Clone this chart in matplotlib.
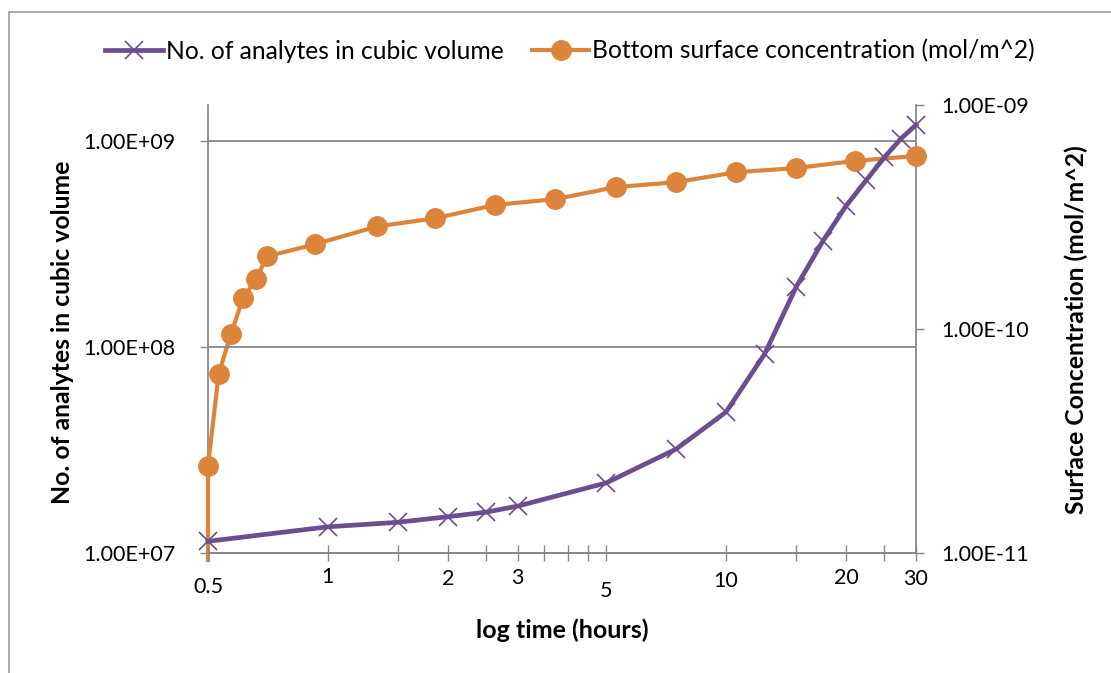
import matplotlib
matplotlib.use('Agg')
import matplotlib.pyplot as plt
from matplotlib.patches import Rectangle
from matplotlib.ticker import FixedLocator, NullLocator
from matplotlib.transforms import Bbox, TransformedBbox

plt.rcParams['font.family'] = ['Lato', 'DejaVu Sans']

# analytes in cubic volume (left axis)
t_analytes = [0.5, 1, 1.5, 2, 2.5, 3, 5, 7.5, 10, 12.5, 15, 17.5, 20, 22.5, 25, 27.5, 30]
n_analytes = [1.14e7, 1.34e7, 1.41e7, 1.50e7, 1.58e7, 1.69e7, 2.19e7, 3.2e7, 4.84e7,
              9.25e7, 1.96e8, 3.27e8, 4.84e8, 6.47e8, 8.36e8, 1.03e9, 1.20e9]

# bottom surface concentration (right axis)
t_surface = [0.5, 0.5, 0.532, 0.571, 0.612, 0.66, 0.704, 0.929, 1.33, 1.86, 2.63,
             3.73, 5.28, 7.47, 10.6, 15.0, 21.1, 30]
c_surface = [1e-12, 2.45e-11, 6.31e-11, 9.5e-11, 1.37e-10, 1.67e-10, 2.11e-10, 2.39e-10,
             2.87e-10, 3.12e-10, 3.58e-10, 3.80e-10, 4.30e-10, 4.52e-10, 5.01e-10,
             5.23e-10, 5.63e-10, 5.92e-10]

x_ticks = [0.5, 1, 1.5, 2, 2.5, 3, 3.5, 4, 4.5, 5, 10, 15, 20, 25, 30]
x_labels = [0.5, 1, 2, 3, 5, 10, 20, 30]

purple = '#6a4e90'
orange = '#dd843b'
gray = '#888888'

fig = plt.figure(figsize=(11.11, 6.73), dpi=100)
ax = fig.add_axes([208/1111, 1-553/673, 708/1111, 448/673])
ax2 = ax.twinx()

ax.set_xscale('log')
ax.set_yscale('log')
ax2.set_yscale('log')
ax.set_xlim(0.5, 30)
ax.set_ylim(1e7, 1.5e9)
ax2.set_ylim(1e-11, 1e-9)

line_o, = ax2.plot(t_surface, c_surface, color=orange, lw=3, marker='o', ms=14, zorder=3,
                   label='Bottom surface concentration (mol/m^2)')
line_p, = ax.plot(t_analytes, n_analytes, color=purple, lw=3.4, marker='x', ms=13.5, mew=1.2,
                  label='No. of analytes in cubic volume')

# plot area clip slightly larger than the axes, like the original chart
for a, ln in ((ax2, line_o), (ax, line_p)):
    ln.set_clip_box(TransformedBbox(Bbox([[-0.02, -0.02], [1.02, 1.02]]), a.transAxes))

# purple on top of orange
ax.set_zorder(ax2.get_zorder() + 1)
ax.patch.set_visible(False)

# left axis
ax.yaxis.set_major_locator(FixedLocator([1e7, 1e8, 1e9]))
ax.yaxis.set_minor_locator(NullLocator())
ax.set_yticklabels(['1.00E+07', '1.00E+08', '1.00E+09'])
ax.tick_params(axis='y', direction='out', length=6, width=1, color=gray,
               labelsize=15.5, pad=17.5)
ax.grid(axis='y', color=gray, lw=1.3)

# right axis
ax2.yaxis.set_major_locator(FixedLocator([1e-11, 1e-10, 1e-9]))
ax2.yaxis.set_minor_locator(NullLocator())
ax2.set_yticklabels(['1.00E-11', '1.00E-10', '1.00E-09'])
ax2.tick_params(axis='y', direction='out', length=6, width=1, color=gray,
                labelsize=15.5, pad=12.5)

# x axis: ticks without default labels, labels placed by hand
ax.xaxis.set_major_locator(FixedLocator(x_ticks))
ax.xaxis.set_minor_locator(NullLocator())
ax.set_xticklabels([])
ax.tick_params(axis='x', direction='inout', length=12, width=1, color=gray)
ax2.tick_params(axis='x', length=0)

label_y = {0.5: 587, 1: 577, 2: 579, 3: 578, 5: 591, 10: 581, 20: 578, 30: 579}
for v in x_labels:
    ax.text(v, (553 - label_y[v]) / 448, f'{v:g}', transform=ax.get_xaxis_transform(),
            ha='center', va='center', fontsize=15.5)

for a in (ax, ax2):
    a.spines['top'].set_visible(False)
    for s in ('left', 'right', 'bottom'):
        a.spines[s].set_color(gray)
        a.spines[s].set_linewidth(1.3)
# left spine drawn from the lower axes so the orange line sits over it
ax.spines['left'].set_visible(False)
ax.spines['right'].set_visible(False)

ax.set_xlabel('log time (hours)', fontsize=18, fontweight='bold', va='center')
ax.xaxis.set_label_coords(0.501, -0.172)
ax.set_ylabel('No. of analytes in cubic volume', fontsize=17.8, fontweight='bold', va='center')
ax.yaxis.set_label_coords(-0.206, 0.493)
ax2.set_ylabel('Surface Concentration (mol/m^2)', fontsize=17.8, fontweight='bold', va='center')
ax2.yaxis.set_label_coords(1.227, 0.498)

h1, l1 = ax.get_legend_handles_labels()
h2, l2 = ax2.get_legend_handles_labels()
fig.legend(h1 + h2, l1 + l2, loc='center', bbox_to_anchor=(570/1111, 1-51/673),
           ncol=2, frameon=False, fontsize=17.7, handlelength=2.35,
           handletextpad=0.12, columnspacing=1.15)

# chart outer border
fig.patches.append(Rectangle((9/1111, -0.05), 1.1, 1-12/673+0.05, transform=fig.transFigure,
                             fill=False, edgecolor='#a6a6a6', lw=1.3))

fig.savefig('out.png', dpi=100)
